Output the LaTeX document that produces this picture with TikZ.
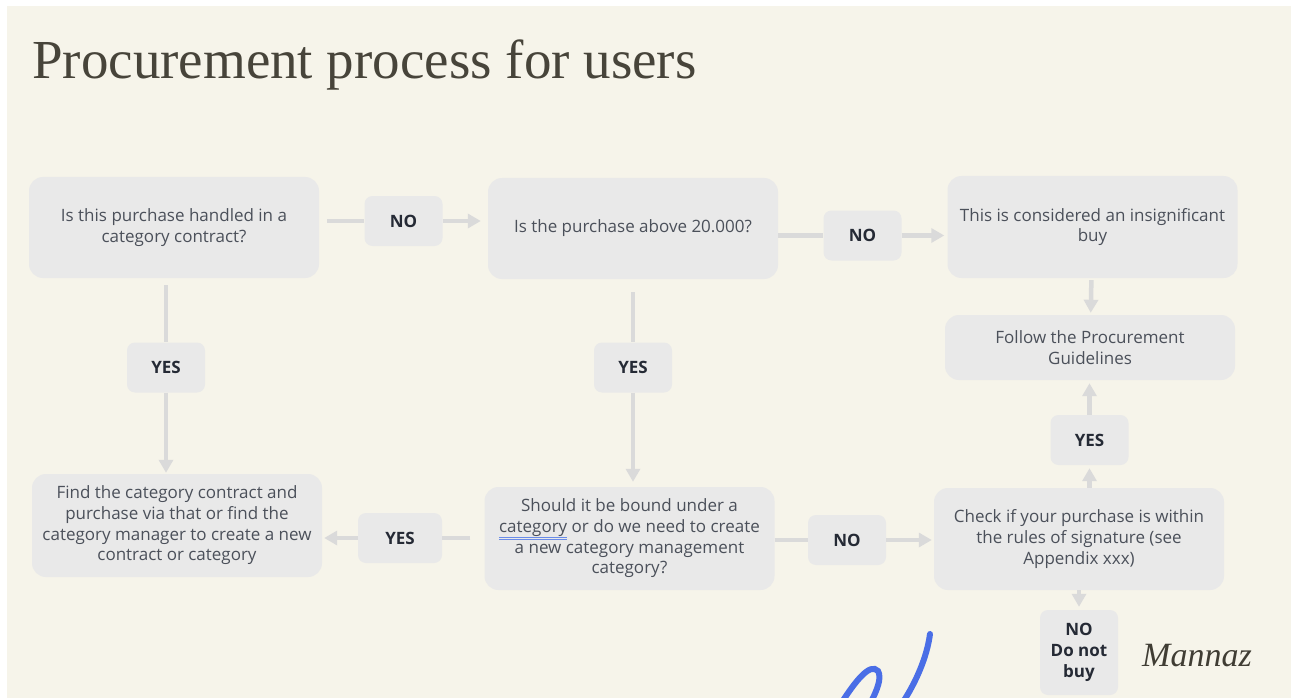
\documentclass[tikz,border=0pt]{standalone}
\usepackage{fontspec}
\setmainfont{Open Sans}
\newfontfamily\titlefont{Liberation Serif}
\usepackage{xcolor}
\definecolor{procpaper}{HTML}{F6F4EA}
\definecolor{procbox}{HTML}{E9E9E9}
\definecolor{proctext}{HTML}{4B505A}
\definecolor{proclabel}{HTML}{252A35}
\definecolor{procline}{HTML}{DADADA}
\definecolor{proctitle}{HTML}{47443A}
\definecolor{procblue}{HTML}{4A6EE6}
\definecolor{procspell}{HTML}{6A8CE8}
\usetikzlibrary{
  arrows.meta,
  positioning,
}
\newcommand{\spellmark}[1]{\setbox0\hbox{#1}%
  \rlap{\textcolor{procspell}{\rule[-5pt]{\wd0}{0.8pt}}}%
  \rlap{\textcolor{procspell}{\rule[-7pt]{\wd0}{0.8pt}}}\box0}

\begin{document}
\begin{tikzpicture}[
  x=1pt, y=-1pt,
  task/.style={
    fill=procbox, rounded corners=14pt, inner sep=0pt,
    minimum width=290pt, minimum height=101pt, align=center,
    font=\fontsize{17}{20.7}\selectfont, text=proctext,
  },
  choice/.style={
    fill=procbox, rounded corners=8pt, inner sep=0pt,
    minimum width=78pt, minimum height=50pt, align=center,
    font=\bfseries\fontsize{17}{21}\selectfont, text=proclabel,
  },
  flow/.style={
    draw=procline, line width=4.5pt,
  },
  flowto/.style={
    flow, -{Triangle[length=13pt,width=14pt]},
  },
]
  \useasboundingbox (0,0) rectangle (1291,698);
  \clip (0,0) rectangle (1291,698);
  \fill[white] (0,0) rectangle (1291,698);
  \fill[procpaper] (7,6) rectangle (1291,698);

  % Title
  \node[anchor=base west, inner sep=0pt, text=proctitle,
    font=\titlefont\fontsize{55}{60}\selectfont] (title) at (32,79)
    {Procurement process for users};

  % Questions and steps
  \node[task] (qcontract) at (174,227.5) {Is this purchase handled in a\\category contract?};
  \node[task] (qamount) at (633,228.5) {Is the purchase above 20.000?};
  \node[task, minimum height=102pt] (insignificant) at (1092.5,227) {This is considered an insignificant\\buy};
  \node[task, minimum height=65pt] (guidelines) at (1090,347.5) {Follow the Procurement\\Guidelines};
  \node[task, minimum height=103pt] (findcontract) at (177,525.5)
    {Find the category contract and\\purchase via that or find the\\category manager to create a new\\contract or category};
  \node[task, minimum height=103pt] (bindcategory) at (629.5,538.5)
    {Should it be bound under a\\\spellmark{category}\ or do we need to create\\a new category management\\category?};
  \node[task, minimum height=102pt] (signature) at (1079,539)
    {Check if your purchase is within\\the rules of signature (see\\Appendix xxx)};

  % Answers
  \node[choice] (nocontract) at (403.5,221) {NO};
  \node[choice] (yescontract) at (166,367.5) {YES};
  \node[choice] (noamount) at (862.5,235.5) {NO};
  \node[choice] (yesamount) at (633,367.5) {YES};
  \node[choice, minimum width=84pt] (yescategory) at (400,538) {YES};
  \node[choice] (nocategory) at (847,540) {NO};
  \node[choice] (yessignature) at (1089.5,440) {YES};
  \node[choice, minimum height=85pt] (nobuy) at (1079,652.5) {NO\\Do not\\buy};

  % Connections
  \draw[flow] ([xshift=8pt]qcontract.east |- nocontract) -- (nocontract);
  \draw[flowto, shorten >=7pt] (nocontract) -- (nocontract -| qamount.west);
  \draw[flow] ([yshift=-7pt]qcontract.south -| yescontract) -- (yescontract);
  \draw[flowto] (yescontract) -- ([yshift=1pt]yescontract |- findcontract.north);

  \draw[flow] (qamount.east |- noamount) -- (noamount);
  \draw[flowto, shorten >=3pt] (noamount) -- (noamount -| insignificant.west);
  \draw[flow] ([yshift=-13pt]qamount.south -| yesamount) -- (yesamount);
  \draw[flowto, shorten >=5pt] (yesamount) -- (yesamount |- bindcategory.north);

  \draw[flowto, shorten <=2pt, shorten >=2pt] (insignificant) -- (guidelines);

  \draw[flow] ([xshift=-14pt]bindcategory.west |- yescategory) -- (yescategory);
  \draw[flowto, shorten >=2pt] (yescategory) -- (yescategory -| findcontract.east);
  \draw[flow] (bindcategory.east |- nocategory) -- (nocategory);
  \draw[flowto, shorten >=2pt] (nocategory) -- (nocategory -| signature.west);

  \draw[flowto, shorten >=3pt] (signature.north -| yessignature) -- (yessignature);
  \draw[flowto, shorten >=3pt] (yessignature) -- (yessignature |- guidelines.south);
  \draw[flowto, shorten >=3pt] (signature) -- (nobuy);

  % Brand and scribble
  \node[anchor=base west, inner sep=0pt, text=proctitle!90!black,
    font=\titlefont\itshape\fontsize{34}{40}\selectfont] (brand) at (1142,666) {Mannaz};
  \draw[procblue, line width=6pt, line cap=round]
    (930,634) .. controls (927,657) and (916,682) .. (903,702);
  \draw[procblue, line width=6pt, line cap=round]
    (842,702) .. controls (855,682) and (870,662) .. (878,671)
    .. controls (882,678) and (877,690) .. (871,702);
\end{tikzpicture}
\end{document}
